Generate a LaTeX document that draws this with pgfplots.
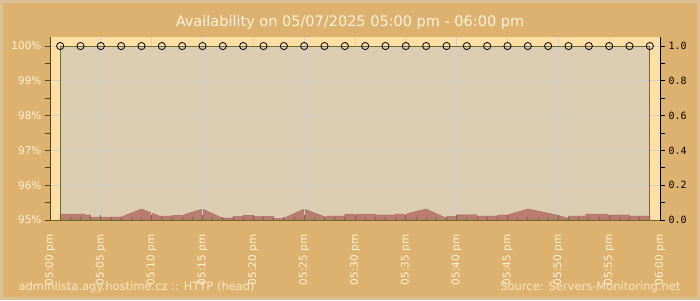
\documentclass[border=0pt]{standalone}
\usepackage{fontspec}
\setmainfont{DejaVu Sans}
\newfontfamily\monofont{DejaVu Sans Mono}
\usepackage{pgfplots}
\usepackage{pgfplotstable}
\pgfplotsset{compat=1.18}
\definecolor{bgc}{HTML}{DDB26E}
\definecolor{framec}{HTML}{DCC095}
\definecolor{stripc}{HTML}{FFDFA3}
\definecolor{innerc}{HTML}{DCCCB1}
\definecolor{areac}{HTML}{BB7C70}
\definecolor{areadark}{HTML}{A9665C}
\definecolor{gridc}{HTML}{D2CFCB}
\definecolor{olivec}{HTML}{6C6C32}
\definecolor{axbrown}{HTML}{5C4218}
\definecolor{labc}{HTML}{FFF3DE}
\definecolor{footc}{HTML}{F7E6C6}

\pgfplotstableread{
m v
1 0.0345
3.4 0.0345
3.4 0.029
4 0.029
4 0.017
7 0.017
9 0.063
11 0.017
11 0.023
12 0.023
12 0.027
13 0.027
15 0.063
17 0.010
17 0.011
18 0.011
18 0.019
19 0.019
19 0.027
20 0.027
20 0.019
22 0.019
22 0.010
23 0.010
25 0.063
27.2 0.014
27.2 0.023
29 0.023
29 0.0345
32 0.0345
32 0.029
34 0.029
34 0.0345
35 0.0345
37 0.063
39 0.010
39 0.019
40 0.019
40 0.030
42 0.030
42 0.023
44 0.023
44 0.029
45 0.029
47 0.063
48.1 0.050
49.1 0.038
49.9 0.027
51 0.010
51 0.023
52.7 0.023
52.7 0.0345
54.8 0.0345
54.8 0.029
57 0.029
57 0.023
59 0.023
}\resptime

\pgfplotsset{common/.style={at={(50pt,80pt)}, anchor=south west, scale only axis, width=610pt, height=183pt, xmin=0, xmax=60}}

\begin{document}
\begin{tikzpicture}
\path[use as bounding box] (0pt,0pt) rectangle (700pt,300pt);
\fill[bgc] (0pt,0pt) rectangle (700pt,300pt);
\draw[framec, line width=3pt] (1.5pt,1.5pt) rectangle (698.5pt,298.5pt);
\node[labc, font=\fontsize{14.5}{16}\selectfont, anchor=base] at (350pt,273pt) {Availability on 05/07/2025 05:00 pm - 06:00 pm};

\begin{axis}[common, ymin=95, ymax=100.26, axis on top,
  axis background/.style={fill=stripc},
  axis x line*=bottom, axis y line*=left,
  x axis line style={olivec, -, line width=1pt}, y axis line style={axbrown, -, line width=1pt},
  tick align=inside, xtick={0,5,...,60}, minor x tick num=4,
  major tick length=5pt, minor tick length=3pt,
  xtick style={olivec, line width=0.8pt},
  ytick={95,96,97,98,99,100}, yticklabels={}, ytick style={draw=none},
  grid=major, major grid style={gridc, line width=0.8pt},
  xticklabels={05:00 pm,05:05 pm,05:10 pm,05:15 pm,05:20 pm,05:25 pm,05:30 pm,05:35 pm,05:40 pm,05:45 pm,05:50 pm,05:55 pm,06:00 pm},
  xticklabel style={labc, font=\fontsize{10.5}{12}\selectfont, rotate=90, anchor=east},
  xticklabel shift=11pt]
\addplot[fill=innerc, draw=none] coordinates {(1,100) (59,100)} \closedcycle;
\addplot[fill=areac, draw=areadark, line width=0.4pt] table[x=m, y expr=95+5*\thisrow{v}] {\resptime} \closedcycle;
\end{axis}

\begin{axis}[common, ymin=95, ymax=100.26,
  hide x axis, axis y line*=left,
  y axis line style={axbrown, -, line width=1pt},
  tick align=outside, ytick={95,96,97,98,99,100},
  minor ytick={95.5,96.5,97.5,98.5,99.5},
  yticklabels={95\%,96\%,97\%,98\%,99\%,100\%},
  ytick style={axbrown, line width=0.8pt},
  major tick length=5pt, minor tick length=5pt,
  yticklabel style={labc, font=\fontsize{10.5}{12}\selectfont}]
\addplot[olivec, line width=1pt] coordinates {(1,95) (1,100) (59,100) (59,95)};
\addplot[only marks, mark=o, mark size=3.6pt, mark options={black, line width=0.8pt}] coordinates {
(1,100) (3,100) (5,100) (7,100) (9,100) (11,100) (13,100) (15,100) (17,100) (19,100)
(21,100) (23,100) (25,100) (27,100) (29,100) (31,100) (33,100) (35,100) (37,100) (39,100)
(41,100) (43,100) (45,100) (47,100) (49,100) (51,100) (53,100) (55,100) (57,100) (59,100)};
\end{axis}

\begin{axis}[common, ymin=0, ymax=1.0517,
  hide x axis, axis y line*=right,
  y axis line style={black, -, line width=1pt},
  tick align=outside, ytick={0,0.2,0.4,0.6,0.8,1},
  minor ytick={0.1,0.3,0.5,0.7,0.9},
  yticklabels={0.0,0.2,0.4,0.6,0.8,1.0},
  ytick style={black, line width=0.8pt},
  major tick length=5pt, minor tick length=5pt,
  yticklabel style={black, font=\monofont\fontsize{10}{11}\selectfont}]
\end{axis}

\node[footc, anchor=base west, font=\fontsize{11.5}{13}\selectfont] at (15pt,9.5pt) {adminlista.agy.hostime.cz :: HTTP (head)};
\node[footc, anchor=base east, font=\fontsize{11.5}{13}\selectfont] at (684pt,9.5pt) {Source: Servers-Monitoring.net};
\end{tikzpicture}
\end{document}
